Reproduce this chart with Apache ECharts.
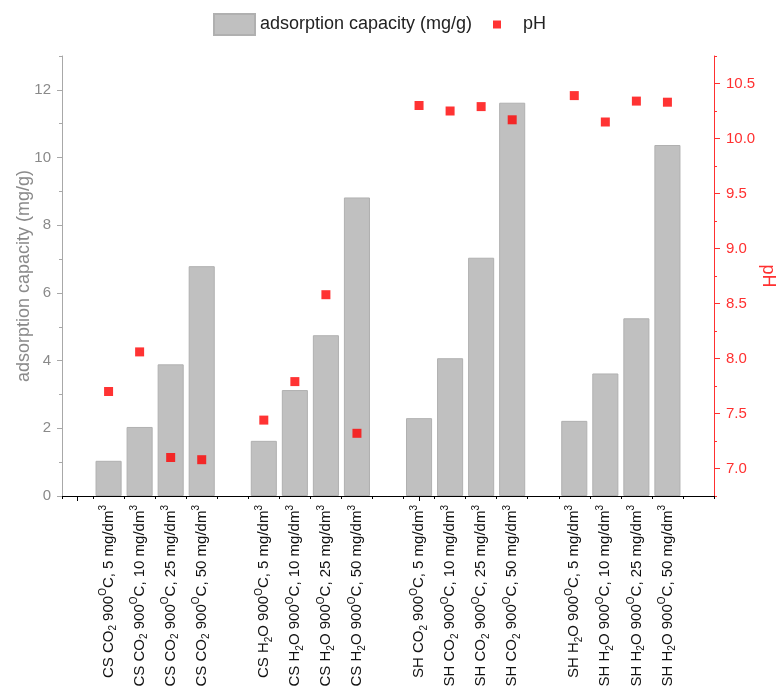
<!DOCTYPE html>
<html>
<head>
<meta charset="utf-8">
<script src="https://cdn.jsdelivr.net/npm/echarts@6/dist/echarts.min.js"></script>
<style>
html,body{margin:0;padding:0;background:#fff;}
#c{width:780px;height:691px;}
</style>
</head>
<body>
<div id="c"></div>
<script>
// Categories (empty strings are the gaps between groups)
const categories = [
  '',
  'CS CO{sub|2} 900{sup|O}C, 5 mg/dm{sup|3}',
  'CS CO{sub|2} 900{sup|O}C, 10 mg/dm{sup|3}',
  'CS CO{sub|2} 900{sup|O}C, 25 mg/dm{sup|3}',
  'CS CO{sub|2} 900{sup|O}C, 50 mg/dm{sup|3}',
  '',
  'CS H{sub|2}O 900{sup|O}C, 5 mg/dm{sup|3}',
  'CS H{sub|2}O 900{sup|O}C, 10 mg/dm{sup|3}',
  'CS H{sub|2}O 900{sup|O}C, 25 mg/dm{sup|3}',
  'CS H{sub|2}O 900{sup|O}C, 50 mg/dm{sup|3}',
  '',
  'SH CO{sub|2} 900{sup|O}C, 5 mg/dm{sup|3}',
  'SH CO{sub|2} 900{sup|O}C, 10 mg/dm{sup|3}',
  'SH CO{sub|2} 900{sup|O}C, 25 mg/dm{sup|3}',
  'SH CO{sub|2} 900{sup|O}C, 50 mg/dm{sup|3}',
  '',
  'SH H{sub|2}O 900{sup|O}C, 5 mg/dm{sup|3}',
  'SH H{sub|2}O 900{sup|O}C, 10 mg/dm{sup|3}',
  'SH H{sub|2}O 900{sup|O}C, 25 mg/dm{sup|3}',
  'SH H{sub|2}O 900{sup|O}C, 50 mg/dm{sup|3}',
  ''
];

// Adsorption capacity (mg/g)
const adsorption = [
  null, 1.04, 2.04, 3.89, 6.79,
  null, 1.63, 3.13, 4.75, 8.82,
  null, 2.30, 4.07, 7.04, 11.62,
  null, 2.22, 3.62, 5.25, 10.37,
  null
];

// pH
const pH = [
  null, 7.70, 8.06, 7.10, 7.08,
  null, 7.44, 7.79, 8.58, 7.32,
  null, 10.30, 10.25, 10.29, 10.17,
  null, 10.39, 10.15, 10.34, 10.33,
  null
];

// Axis ticks
const leftMajor = [0, 2, 4, 6, 8, 10, 12];
const leftMinor = [1, 3, 5, 7, 9, 11, 13];
const rightMajor = [7.0, 7.5, 8.0, 8.5, 9.0, 9.5, 10.0, 10.5];
const rightMinor = [6.75, 7.25, 7.75, 8.25, 8.75, 9.25, 9.75, 10.25, 10.75];

const FONT = 'Liberation Sans, Arial, sans-serif';
const GRAY_LINE = '#a8a8a8';
const GRAY_TEXT = '#8a8a8a';
const RED = '#ff3030';

const chart = echarts.init(document.getElementById('c'), null, {renderer: 'canvas'});

const option = {
  backgroundColor: '#fff',
  animation: false,
  textStyle: {fontFamily: FONT},
  grid: {left: 62, right: 66, top: 56, bottom: 195, containLabel: false, outerBoundsMode: 'none'},
  legend: [
    {
      data: [{name: 'adsorption capacity (mg/g)', icon: 'rect'}],
      left: 213, top: 13, padding: 0,
      itemWidth: 41, itemHeight: 21,
      textStyle: {fontSize: 18, color: '#222', fontFamily: FONT}
    },
    {
      data: [{name: 'pH', icon: 'rect'}],
      left: 493, top: 14, padding: 0,
      itemWidth: 8, itemHeight: 8,
      textStyle: {fontSize: 18, color: '#222', fontFamily: FONT, lineHeight: 21, padding: [0, 0, 0, 17]}
    }
  ],
  xAxis: [
    {
      type: 'category',
      data: categories,
      boundaryGap: true,
      axisLine: {lineStyle: {color: '#000', width: 1}},
      axisTick: {show: true, length: 3, lineStyle: {color: '#000'}},
      axisLabel: {
        interval: 0,
        rotate: 90,
        margin: 9,
        fontSize: 15,
        lineHeight: 20,
        color: '#111',
        fontFamily: FONT,
        formatter: v => v,
        rich: {
          sub: {fontSize: 10, lineHeight: 10, verticalAlign: 'bottom', color: '#111', fontFamily: FONT},
          sup: {fontSize: 10, lineHeight: 10, verticalAlign: 'top', color: '#111', fontFamily: FONT}
        }
      },
      splitLine: {show: false}
    },
    {
      type: 'category',
      data: categories,
      position: 'bottom',
      boundaryGap: true,
      axisLine: {show: false},
      axisTick: {show: true, alignWithLabel: true, length: 5, lineStyle: {color: '#000'}},
      axisLabel: {show: false},
      splitLine: {show: false}
    }
  ],
  yAxis: [
    {
      type: 'value',
      position: 'left',
      min: 0, max: 13,
      axisLine: {show: true, lineStyle: {color: GRAY_LINE, width: 1}},
      axisTick: {show: true, length: 5, customValues: leftMajor, lineStyle: {color: GRAY_LINE}},
      axisLabel: {customValues: leftMajor, color: GRAY_TEXT, fontSize: 15, fontFamily: FONT, margin: 11},
      splitLine: {show: false},
      name: 'adsorption capacity (mg/g)',
      nameLocation: 'middle',
      nameGap: 29,
      nameMoveOverlap: false,
      nameTextStyle: {color: GRAY_TEXT, fontSize: 18, fontFamily: FONT}
    },
    {
      type: 'value',
      position: 'left',
      min: 0, max: 13,
      axisLine: {show: false},
      axisTick: {show: true, length: 3, customValues: leftMinor, lineStyle: {color: GRAY_LINE}},
      axisLabel: {show: false},
      splitLine: {show: false}
    },
    {
      type: 'value',
      position: 'right',
      min: 6.75, max: 10.75,
      axisLine: {show: true, lineStyle: {color: RED, width: 1}},
      axisTick: {show: true, length: 6, customValues: rightMajor, lineStyle: {color: RED}},
      axisLabel: {customValues: rightMajor, color: RED, fontSize: 15, fontFamily: FONT, margin: 12,
        formatter: v => Number(v).toFixed(1)},
      splitLine: {show: false},
      name: 'pH',
      nameLocation: 'middle',
      nameRotate: -90,
      nameGap: 45,
      nameMoveOverlap: false,
      nameTextStyle: {color: RED, fontSize: 18, fontFamily: FONT}
    },
    {
      type: 'value',
      position: 'right',
      min: 6.75, max: 10.75,
      axisLine: {show: false},
      axisTick: {show: true, length: 3, customValues: rightMinor, lineStyle: {color: RED}},
      axisLabel: {show: false},
      splitLine: {show: false}
    }
  ],
  series: [
    {
      name: 'adsorption capacity (mg/g)',
      type: 'bar',
      xAxisIndex: 0,
      yAxisIndex: 0,
      data: adsorption,
      barCategoryGap: '16%',
      itemStyle: {color: '#c0c0c0', borderColor: '#b0b0b0', borderWidth: 1}
    },
    {
      name: 'pH',
      type: 'scatter',
      xAxisIndex: 0,
      yAxisIndex: 2,
      data: pH,
      symbol: 'rect',
      symbolSize: 9,
      itemStyle: {color: '#ff0000'}
    }
  ]
};

chart.setOption(option);
</script>
</body>
</html>
